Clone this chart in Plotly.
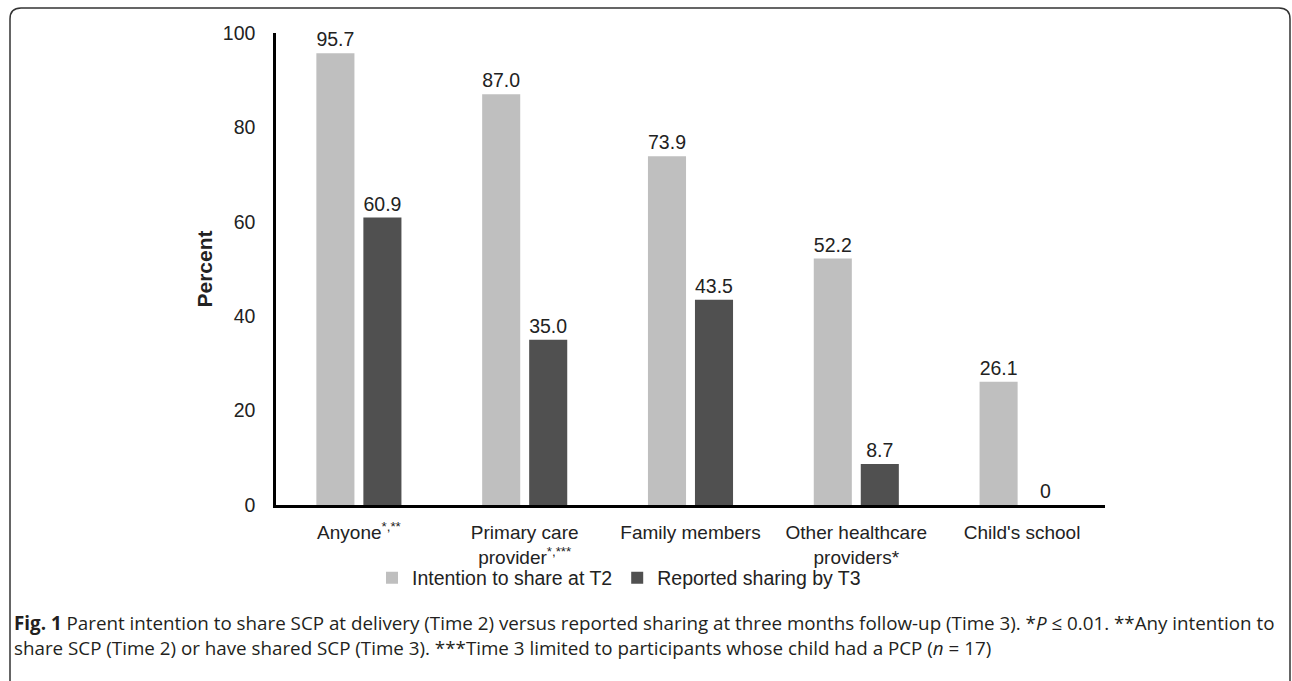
import plotly.graph_objects as go

categories = ["Anyone<sup>*,**</sup>", "Primary care<br>provider<sup>*,***</sup>", "Family members",
              "Other healthcare<br>providers*", "Child's school"]
intention_t2 = [95.7, 87.0, 73.9, 52.2, 26.1]
reported_t3 = [60.9, 35.0, 43.5, 8.7, 0]
series_names = ["Intention to share at T2", "Reported sharing by T3"]
y_ticks = [0, 20, 40, 60, 80, 100]

W, H = 1292, 681
L, R, T, B = 276, 1105, 33, 505  # plot area pixels


def px(x):
    return (x - L) / (R - L)


def py(y):
    return (B - y) / (B - T)


def fmt(v):
    return f"{v:.1f}" if v else "0"


FONT = "Liberation Sans, Arial, sans-serif"
fig = go.Figure()
fig.add_trace(go.Bar(x=categories, y=intention_t2, name=series_names[0],
                     marker=dict(color="#BFBFBF", line_width=0),
                     text=[fmt(v) for v in intention_t2], textposition="outside",
                     textfont=dict(size=19.5, color="#222222", family=FONT), cliponaxis=False))
fig.add_trace(go.Bar(x=categories, y=reported_t3, name=series_names[1],
                     marker=dict(color="#505050", line_width=0),
                     text=[fmt(v) for v in reported_t3], textposition="outside",
                     textfont=dict(size=19.5, color="#222222", family=FONT), cliponaxis=False))

# rounded frame
x0, x1, y0, y1, r = 10, 1290, 8, 700, 11
path = (f"M {px(x0)} {py(y1)} L {px(x0)} {py(y0 + r)} Q {px(x0)} {py(y0)} {px(x0 + r)} {py(y0)} "
        f"L {px(x1 - r)} {py(y0)} Q {px(x1)} {py(y0)} {px(x1)} {py(y0 + r)} L {px(x1)} {py(y1)}")
fig.add_shape(type="path", path=path, xref="paper", yref="paper",
              line=dict(color="#333333", width=1.5))

cap1 = ("<b>Fig. 1</b> Parent intention to share SCP at delivery (Time 2) versus reported sharing at three "
        "months follow-up (Time 3). *<i>P</i> ≤ 0.01. **Any intention to")
cap2 = ("share SCP (Time 2) or have shared SCP (Time 3). ***Time 3 limited to participants whose child "
        "had a PCP (<i>n</i> = 17)")
for txt, yy in [(cap1, 623), (cap2, 648)]:
    fig.add_annotation(text=txt, xref="paper", yref="paper", x=px(12), y=py(yy),
                       xanchor="left", yanchor="middle", showarrow=False, align="left",
                       font=dict(family="Open Sans, sans-serif", size=18.8, color="#231f20"))

fig.update_layout(
    width=W, height=H, autosize=False,
    margin=dict(l=L, r=W - R, t=T, b=H - B),
    paper_bgcolor="white", plot_bgcolor="white",
    barmode="group", bargap=0.433, bargroupgap=0.19,
    font=dict(family=FONT, size=19.5, color="#222222"),
    showlegend=True,
    legend=dict(orientation="h", x=px(619), xanchor="center", y=py(578), yanchor="middle",
                font=dict(size=19.5, family=FONT), itemwidth=30, traceorder="normal",
                bgcolor="rgba(0,0,0,0)"),
    xaxis=dict(showline=True, linecolor="black", linewidth=3, ticks="", showgrid=False,
               tickfont=dict(size=19, family=FONT), ticklabelstandoff=8),
    yaxis=dict(range=[0, 100], tickvals=y_ticks, showline=True, linecolor="black", linewidth=2.5,
               ticks="", showgrid=False, zeroline=False, ticklabelstandoff=14,
               tickfont=dict(size=19.5, family=FONT),
               title=dict(text="<b>Percent</b>", font=dict(size=21, family=FONT), standoff=5)),
)
fig.write_html("out.html", config={"displayModeBar": False},
               post_script="document.body.style.margin='0';document.body.style.overflow='hidden';")
